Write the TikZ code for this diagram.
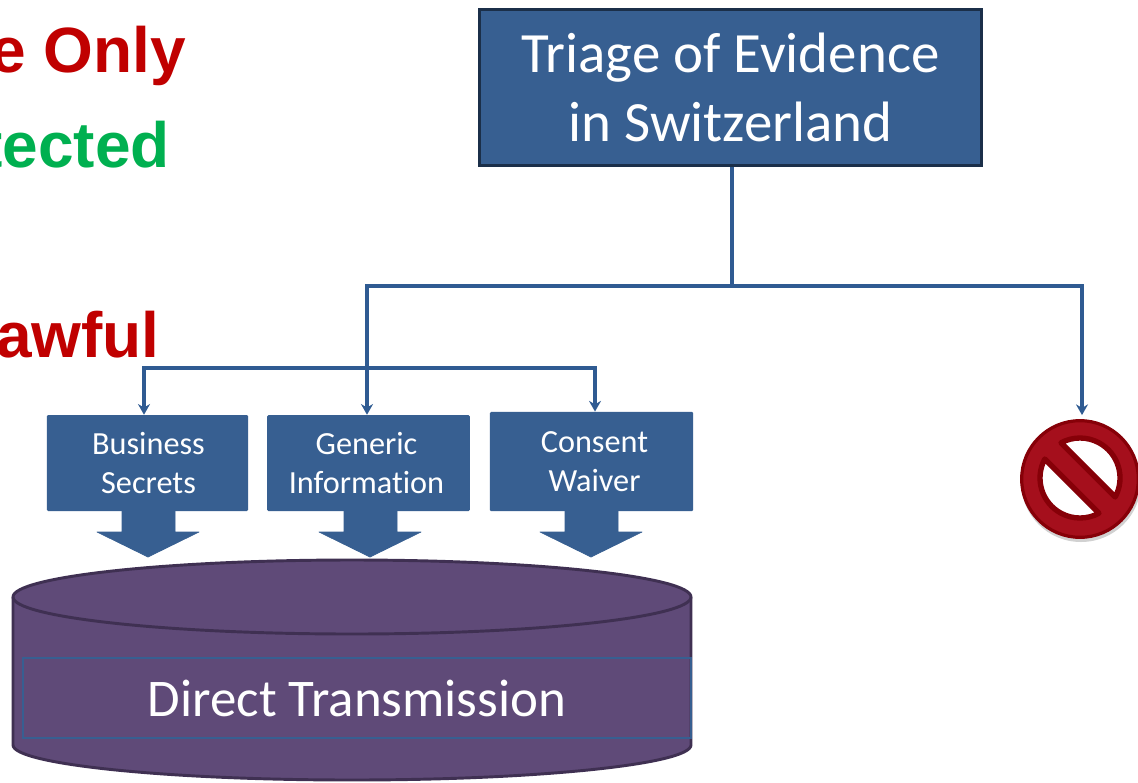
\documentclass[tikz,border=0pt]{standalone}
\usepackage{fontspec}
\setmainfont{Carlito}[Ligatures=NoCommon]
\newfontfamily\headfont{Liberation Sans}[BoldFont={Liberation Sans Bold}]
\usetikzlibrary{arrows.meta}
\definecolor{boxblue}{HTML}{375F91}
\definecolor{boxedge}{HTML}{1B2F49}
\definecolor{linkblue}{HTML}{2F5B92}
\definecolor{drumfill}{HTML}{5F4A78}
\definecolor{drumedge}{HTML}{3F3052}
\definecolor{headred}{HTML}{C00000}
\definecolor{headgreen}{HTML}{00B050}
\definecolor{stopred}{HTML}{A50F1C}
\definecolor{stopedge}{HTML}{860008}
\tikzset{
  headtext/.style={anchor=base east,inner sep=0pt,font=\headfont\bfseries\fontsize{48}{56}\selectfont},
  smallbox/.style={fill=boxblue,text=white,rounded corners=1pt,inner sep=0pt,minimum height=72pt,align=center,font=\fontsize{24.2}{29.6}\selectfont},
  blockarrow/.style={fill=boxblue,draw=boxblue,line width=.5pt,line join=round},
  link/.style={draw=linkblue,line width=3pt},
  linkarrow/.style={link,-{Stealth[length=8pt,width=9pt]}},
}
\begin{document}
\begin{tikzpicture}[x=0.75pt,y=-0.75pt]
\useasboundingbox (0,0) rectangle (1138,782);
\fill[white] (0,0) rectangle (1138,782);
\node[headtext,text=headred] (only) at (186.5,72) {e Only};
\node[headtext,text=headgreen] (ected) at (170,167) {tected};
\node[headtext,text=headred] (awful) at (160,357) {awful};
% main box
\node[draw=boxedge,fill=boxblue,text=white,line width=2.4pt,inner sep=0pt,minimum width=376.5pt,minimum height=117.5pt,align=center,font=\fontsize{42.7}{51.5}\selectfont] (triage) at (730.5,87.5) {Triage of Evidence\\in Switzerland};
% small boxes
\node[smallbox,minimum width=151pt] (business) at (147.5,463) {\hspace*{1.5pt}Business\\\hspace*{1.5pt}Secrets};
\node[smallbox,minimum width=152pt] (generic) at (368.5,463) {Generic\hspace*{3pt}\\Information\hspace*{3pt}};
\node[smallbox,minimum width=152.5pt,minimum height=74.5pt] (consent) at (591.5,461.5) {\hspace*{4.5pt}Consent\\\hspace*{4.5pt}Waiver};
% block arrows
\fill[blockarrow] (122,511) -- (175,511) -- (175,532) -- (199,532) -- (148,557) -- (97,532) -- (122,532) -- cycle;
\fill[blockarrow] (344,511) -- (397,511) -- (397,532) -- (421,532) -- (370,557) -- (319,532) -- (344,532) -- cycle;
\fill[blockarrow] (565,511) -- (618,511) -- (618,532) -- (642,532) -- (591,557) -- (540,532) -- (565,532) -- cycle;
% drum
\draw[fill=drumfill,draw=drumedge,line width=2.2pt] (13,597) -- (13,745) .. controls (13,764) and (165,780) .. (352,780) .. controls (539,780) and (691,764) .. (691,745) -- (691,597) .. controls (691,577) and (539,560) .. (352,560) .. controls (165,560) and (13,577) .. (13,597) -- cycle;
\draw[draw=drumedge,line width=2.2pt] (13,597) .. controls (13,617) and (165,634) .. (352,634) .. controls (539,634) and (691,617) .. (691,597);
\node[draw=boxblue,line width=.8pt,inner sep=0pt,minimum width=501pt,minimum height=60pt,text=white,font=\fontsize{39.7}{44}\selectfont] (direct) at (357,698) {Direct Transmission};
% stop sign
\fill[black,opacity=.18] (1081,482) circle[radius=60];
\node[circle,fill=stopred,draw=stopedge,line width=2.4pt,minimum size=87.5pt,inner sep=0pt] (stop) at (1080,479) {};
\begin{scope}[shift={(1080,478)},x=0.75pt,y=0.75pt,rotate=-45]
\draw[fill=white,draw=stopedge,line width=4pt,line join=round] (16.7:40) arc[start angle=16.7,end angle=163.3,radius=30pt] -- cycle;
\draw[fill=white,draw=stopedge,line width=4pt,line join=round] (196.7:40) arc[start angle=196.7,end angle=343.3,radius=30pt] -- cycle;
\end{scope}
% connectors
\coordinate (hub) at (732,286);
\coordinate (leftturn) at (367,286);
\coordinate (rightturn) at (1082,286);
\coordinate (bracketL) at (144,368);
\coordinate (bracketR) at (595,368);
\draw[link] (triage.south -| hub) -- (hub);
\draw[linkarrow,line join=miter] (hub) -- (leftturn) -- (generic.north -| leftturn);
\draw[linkarrow,line join=miter,shorten >=3pt] (hub) -- (rightturn) -- (stop.north -| rightturn);
\draw[linkarrow,line join=miter] (leftturn |- bracketL) -- (bracketL) -- (business.north -| bracketL);
\draw[linkarrow,line join=miter] (leftturn |- bracketR) -- (bracketR) -- (consent.north -| bracketR);
\end{tikzpicture}
\end{document}
